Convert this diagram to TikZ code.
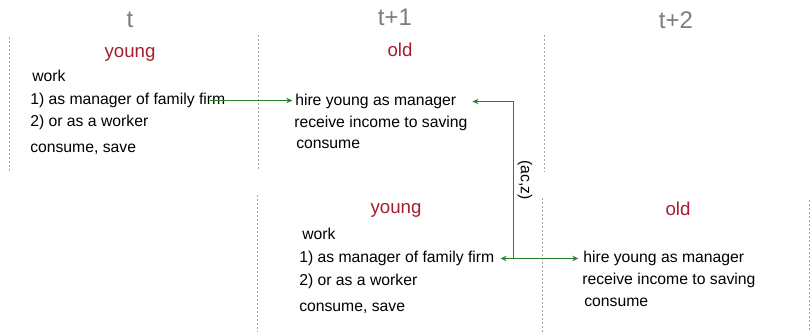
\documentclass[tikz,border=0pt]{standalone}
\usepackage{fontspec}
\setmainfont{Liberation Sans}
\usetikzlibrary{positioning,arrows.meta}
\definecolor{hdgray}{RGB}{125,125,125}
\definecolor{agered}{RGB}{165,30,45}
\definecolor{flowgreen}{RGB}{40,130,40}

\begin{document}
\begin{tikzpicture}[
        x=0.75pt, y=-0.75pt,
        period/.style={font=\fontsize{18}{20}\selectfont, text=hdgray, anchor=base, inner sep=0pt},
        age/.style={font=\fontsize{14}{16}\selectfont, text=agered, anchor=base, inner sep=0pt},
        line/.style={font=\fontsize{11.8}{14}\selectfont, anchor=base west, inner sep=0pt},
        sep/.style={draw, gray!70, line width=0.6pt, dash pattern=on 1.5pt off 1.5pt},
        flow/.style={-{Stealth[length=4.5pt, width=4pt]}, flowgreen, line width=0.75pt}
    ]
        \useasboundingbox (0,0) rectangle (810,332);

        % periods
        \node[period] (tnow)  at (130,27) {t};
        \node[period] (tnext) at (395,26) {t+1};
        \node[period] (tlast) at (676,28) {t+2};

        % separators
        \draw[sep] (9,37)   -- (9,173);
        \draw[sep] (258,35) -- (258,171);
        \draw[sep] (544,35) -- (544,172);
        \draw[sep] (257,195) -- (257,332);
        \draw[sep] (542,198) -- (542,332);
        \draw[sep] (809,200) -- (809,332);

        % generation born at t
        \node[age]  (young1) at (130,57) {young};
        \node[line] (ywork)   at (32,81)  {work};
        \node[line] (ymgr)    at (30,104) {1) as manager of family firm};
        \node[line] (yworker) at (30,126) {2) or as a worker};
        \node[line] (ycons)   at (30,152) {consume, save};

        \node[age]  (old1) at (400,56) {old};
        \node[line] (ohire) at (295,105) {hire young as manager};
        \node[line] (oinc)  at (294,127) {receive income to saving};
        \node[line] (ocons) at (296,148) {consume};

        % generation born at t+1
        \node[age]  (young2) at (396,213) {young};
        \node[line] (ywork2)   at (302,239) {work};
        \node[line] (ymgr2)    at (299,262) {1) as manager of family firm};
        \node[line] (yworker2) at (299,285) {2) or as a worker};
        \node[line] (ycons2)   at (299,311) {consume, save};

        \node[age]  (old2) at (678,215) {old};
        \node[line] (ohire2) at (583,262) {hire young as manager};
        \node[line] (oinc2)  at (582,284) {receive income to saving};
        \node[line] (ocons2) at (584,306) {consume};

        % links
        \draw[flow] ([xshift=-12pt]ymgr.mid east) -- ([xshift=-2pt]ymgr.mid east -| ohire.west);
        \coordinate (fork) at ([xshift=14pt]ymgr2.mid east);
        \draw[flow] (fork) |- node[pos=0.25, rotate=-90, anchor=south, inner sep=3pt,
                text=black, font=\fontsize{11.8}{14}\selectfont] (acz) {(ac,z)}
            ([xshift=12pt]ohire.mid east);
        \draw[flow] (fork) -- ([xshift=4.5pt]ymgr2.mid east);
        \draw[flow] (fork) -- ([xshift=-3.5pt]ohire2.mid west);
    \end{tikzpicture}
\end{document}
